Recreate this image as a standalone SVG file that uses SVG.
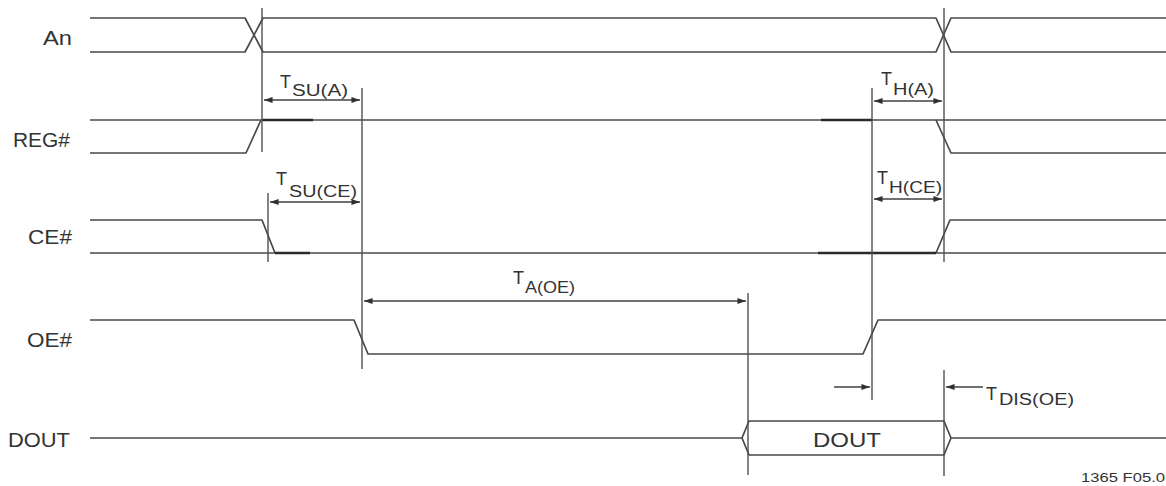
<svg xmlns="http://www.w3.org/2000/svg" width="1166" height="486" viewBox="0 0 1166 486">
<style>
  .sig{fill:none;stroke:#484848;stroke-width:1.7;stroke-linejoin:round}
  .thk{fill:none;stroke:#2a2a2a;stroke-width:2.6}
  .ref{fill:none;stroke:#505050;stroke-width:1.4}
  .dim{fill:none;stroke:#404040;stroke-width:1.3}
  .lbl{font-family:"Liberation Sans",Arial,sans-serif;font-size:20px;fill:#333}
  .t{font-family:"Liberation Sans",Arial,sans-serif;font-size:18px;fill:#333}
  .sub{font-family:"Liberation Sans",Arial,sans-serif;font-size:16px;fill:#333}
  .note{font-family:"Liberation Sans",Arial,sans-serif;font-size:13px;fill:#333}
</style>
<defs>
  <marker id="arr" viewBox="0 0 10 7" refX="10" refY="3.5" markerUnits="userSpaceOnUse" markerWidth="9" markerHeight="6" orient="auto-start-reverse">
    <path d="M0,0 L10,3.5 L0,7 z" fill="#303030"/>
  </marker>
</defs>
<rect width="1166" height="486" fill="#fff"/>

<g id="sig-An">
  <text class="lbl" x="43" y="45" textLength="29" lengthAdjust="spacingAndGlyphs">An</text>
  <path class="sig" d="M90,18 H245 L263,52 H936 L951,18 H1166"/>
  <path class="sig" d="M90,52 H245 L263,18 H936 L951,52 H1166"/>
</g>

<g id="sig-REG">
  <text class="lbl" x="13" y="147" textLength="57" lengthAdjust="spacingAndGlyphs">REG#</text>
  <path class="sig" d="M90,120 H1166"/>
  <path class="sig" d="M90,153 H246 L261,120"/>
  <path class="sig" d="M936,120 L951,153 H1166"/>
  <path class="thk" d="M262,120 H313 M821,120 H872"/>
</g>

<g id="sig-CE">
  <text class="lbl" x="28" y="244" textLength="44" lengthAdjust="spacingAndGlyphs">CE#</text>
  <path class="sig" d="M90,253 H1166"/>
  <path class="sig" d="M90,220 H262 L275,253"/>
  <path class="sig" d="M936,253 L950,220 H1166"/>
  <path class="thk" d="M275,253 H310 M818,253 H936"/>
</g>

<g id="sig-OE">
  <text class="lbl" x="27" y="347" textLength="45" lengthAdjust="spacingAndGlyphs">OE#</text>
  <path class="sig" d="M90,320 H354 L368,354 H863 L878,320 H1166"/>
</g>

<g id="sig-DOUT">
  <text class="lbl" x="8" y="447" textLength="62" lengthAdjust="spacingAndGlyphs">DOUT</text>
  <path class="sig" d="M90,438 H742 L749,421 H944 L951,438 H1166"/>
  <path class="sig" d="M742,438 L749,455 H944 L951,438"/>
  <text class="lbl" x="813" y="447" textLength="68" lengthAdjust="spacingAndGlyphs">DOUT</text>
</g>

<g id="connectors">
  <path class="ref" d="M262,8 V152"/>
  <path class="ref" d="M944,8 V262"/>
  <path class="ref" d="M362,88 V369"/>
  <path class="ref" d="M872,88 V400"/>
  <path class="ref" d="M268,193 V262"/>
  <path class="ref" d="M748,293 V475"/>
  <path class="ref" d="M944,370 V476"/>
  <line class="dim" x1="264" y1="100" x2="360" y2="100" marker-start="url(#arr)" marker-end="url(#arr)"/>
  <line class="dim" x1="270" y1="202" x2="360" y2="202" marker-start="url(#arr)" marker-end="url(#arr)"/>
  <line class="dim" x1="364" y1="301" x2="746" y2="301" marker-start="url(#arr)" marker-end="url(#arr)"/>
  <line class="dim" x1="874" y1="101" x2="942" y2="101" marker-start="url(#arr)" marker-end="url(#arr)"/>
  <line class="dim" x1="874" y1="199" x2="942" y2="199" marker-start="url(#arr)" marker-end="url(#arr)"/>
  <line class="dim" x1="834" y1="387" x2="870" y2="387" marker-end="url(#arr)"/>
  <line class="dim" x1="983" y1="387" x2="946" y2="387" marker-end="url(#arr)"/>
</g>

<g id="timing-labels">
  <text class="t" x="280" y="88">T</text>
  <text class="sub" x="292" y="96" textLength="56" lengthAdjust="spacingAndGlyphs">SU(A)</text>
  <text class="t" x="276" y="185">T</text>
  <text class="sub" x="289" y="197" textLength="68" lengthAdjust="spacingAndGlyphs">SU(CE)</text>
  <text class="t" x="513" y="284">T</text>
  <text class="sub" x="525" y="293" textLength="50" lengthAdjust="spacingAndGlyphs">A(OE)</text>
  <text class="t" x="881" y="85">T</text>
  <text class="sub" x="893" y="95" textLength="41" lengthAdjust="spacingAndGlyphs">H(A)</text>
  <text class="t" x="877" y="184">T</text>
  <text class="sub" x="889" y="193" textLength="53" lengthAdjust="spacingAndGlyphs">H(CE)</text>
  <text class="t" x="986" y="400">T</text>
  <text class="sub" x="999" y="405" textLength="75" lengthAdjust="spacingAndGlyphs">DIS(OE)</text>
</g>

<text class="note" x="1081" y="482" textLength="84" lengthAdjust="spacingAndGlyphs">1365 F05.0</text>
</svg>
